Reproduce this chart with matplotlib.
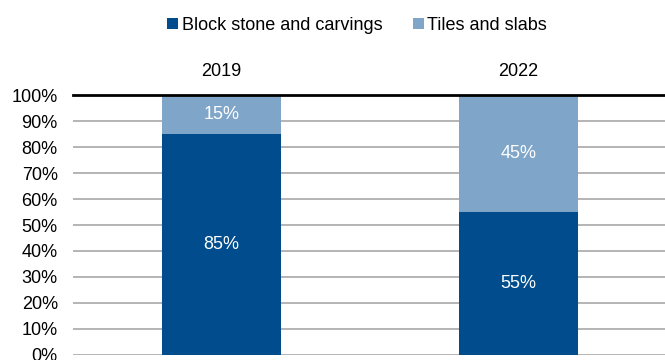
import matplotlib.pyplot as plt
import numpy as np

plt.rcParams["font.family"] = ["Liberation Sans", "DejaVu Sans"]
plt.rcParams["font.size"] = 13

years = ["2019", "2022"]
block = [85, 55]
tiles = [15, 45]
series_names = ["Block stone and carvings", "Tiles and slabs"]
dark = "#004C8C"
light = "#7FA6C9"

fig = plt.figure(figsize=(6.65, 3.6), dpi=100)
ax = fig.add_axes([0.11, 0.014, 0.893, 0.722])

x = np.arange(len(years))
b1 = ax.bar(x, block, width=0.4, color=dark, label=series_names[0], zorder=3)
b2 = ax.bar(x, tiles, width=0.4, bottom=block, color=light, label=series_names[1], zorder=3)

for i in range(len(years)):
    ax.text(x[i], block[i] / 2, f"{block[i]}%", ha="center", va="center", color="white", zorder=4)
    ax.text(x[i], block[i] + tiles[i] / 2, f"{tiles[i]}%", ha="center", va="center", color="white", zorder=4)

ax.set_xlim(-0.5, 1.5)
ax.set_ylim(0, 100)
ax.set_yticks(np.arange(0, 101, 10))
ax.set_yticklabels([f"{v}%" for v in range(0, 101, 10)])
ax.set_xticks(x)
ax.set_xticklabels(years)
ax.xaxis.tick_top()
ax.tick_params(axis="x", length=0, pad=11)
ax.tick_params(axis="y", length=0, pad=11)

ax.grid(axis="y", color="#B4B4B4", linewidth=1.4, zorder=0)
for s in ax.spines.values():
    s.set_visible(False)
ax.axhline(100, color="black", linewidth=2, zorder=5, clip_on=False)

fig.legend(handles=[b1, b2], loc="center", bbox_to_anchor=(0.537, 0.93), ncol=2,
           frameon=False, handlelength=0.6, handleheight=0.6, handletextpad=0.2,
           columnspacing=1.7)

plt.savefig("out.png", dpi=100)
